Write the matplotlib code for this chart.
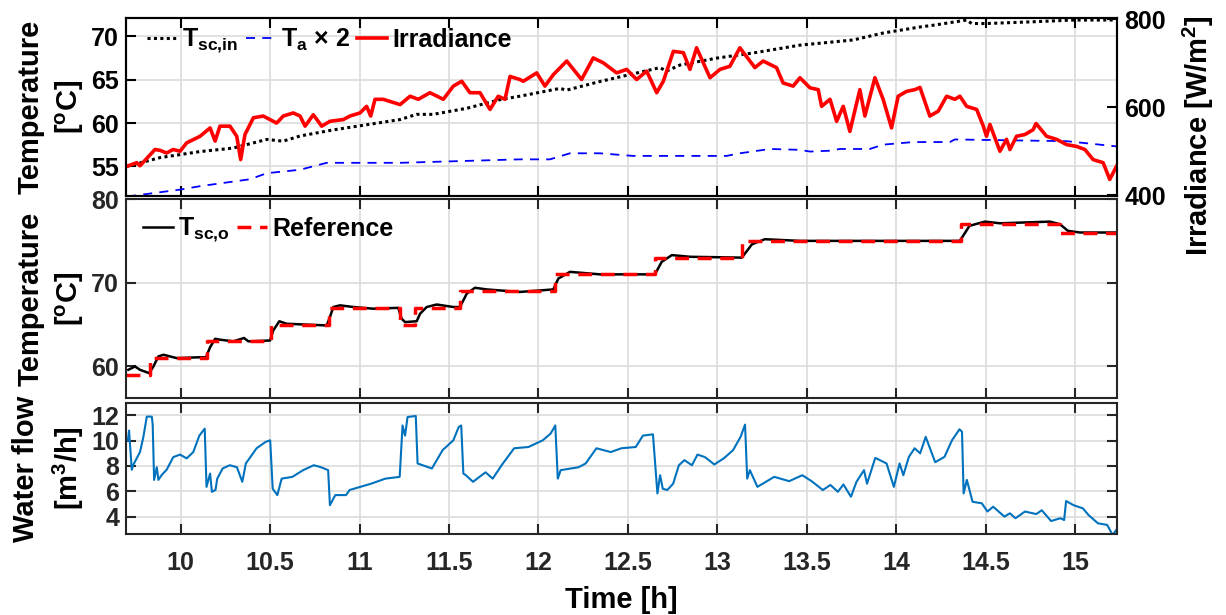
import matplotlib
matplotlib.use("Agg")
import matplotlib.pyplot as plt

# fonts: bold Arial-like text, bold math for subscripts
plt.rcParams["font.family"] = ["Liberation Sans", "DejaVu Sans"]
plt.rcParams["font.weight"] = "bold"
plt.rcParams["axes.labelweight"] = "bold"
plt.rcParams["mathtext.fontset"] = "custom"
plt.rcParams["mathtext.rm"] = "Liberation Sans:bold"
plt.rcParams["mathtext.it"] = "Liberation Sans:bold"
plt.rcParams["mathtext.bf"] = "Liberation Sans:bold"
plt.rcParams["mathtext.default"] = "rm"

# ---- data ----
irr_t = [9.700, 9.754, 9.772, 9.856, 9.884, 9.921, 9.957, 9.996, 10.033, 10.108,
         10.164, 10.192, 10.219, 10.275, 10.313, 10.335, 10.359, 10.406, 10.461, 10.536,
         10.573, 10.629, 10.667, 10.695, 10.741, 10.788, 10.834, 10.909, 10.946, 11.002,
         11.039, 11.062, 11.086, 11.132, 11.226, 11.282, 11.328, 11.393, 11.468, 11.524,
         11.571, 11.617, 11.673, 11.729, 11.775, 11.813, 11.841, 11.896, 11.915, 11.990,
         12.036, 12.083, 12.158, 12.241, 12.306, 12.362, 12.437, 12.493, 12.549, 12.605,
         12.661, 12.698, 12.754, 12.810, 12.847, 12.884, 12.959, 13.015, 13.070, 13.126,
         13.210, 13.256, 13.331, 13.368, 13.424, 13.462, 13.518, 13.564, 13.583, 13.630,
         13.667, 13.704, 13.741, 13.797, 13.825, 13.881, 13.927, 13.974, 14.011, 14.058,
         14.105, 14.133, 14.188, 14.235, 14.282, 14.328, 14.356, 14.394, 14.450, 14.487,
         14.505, 14.524, 14.580, 14.617, 14.636, 14.673, 14.720, 14.766, 14.782, 14.841,
         14.897, 14.953, 15.008, 15.055, 15.101, 15.157, 15.194, 15.232]
irradiance = [466, 474, 467, 504, 502, 496, 504, 500, 519, 534,
              553, 523, 557, 557, 534, 481, 538, 576, 580, 564,
              580, 587, 580, 557, 583, 557, 568, 572, 580, 587,
              602, 580, 618, 618, 606, 625, 618, 633, 618, 648,
              659, 633, 633, 595, 625, 618, 670, 663, 659, 678,
              648, 674, 705, 663, 712, 701, 678, 686, 663, 682,
              633, 659, 727, 724, 686, 735, 667, 686, 693, 735,
              690, 705, 690, 655, 648, 667, 644, 640, 602, 618,
              568, 602, 545, 640, 580, 667, 618, 553, 625, 636,
              640, 645, 580, 591, 625, 618, 625, 602, 595, 557,
              534, 561, 500, 527, 504, 534, 538, 549, 563, 534,
              527, 515, 511, 504, 481, 474, 436, 466]

tsc_in_t = [9.700, 9.884, 10.108, 10.292, 10.481, 10.572, 10.667, 10.851, 11.039, 11.226,
            11.319, 11.410, 11.599, 11.785, 11.896, 12.120, 12.157, 12.344, 12.679, 12.716,
            12.791, 12.996, 13.201, 13.462, 13.760, 13.927, 14.133, 14.207, 14.394, 14.422,
            14.505, 14.764, 14.988, 15.232]
tsc_in = [55.0, 56.0, 56.7, 57.1, 58.1, 57.9, 58.5, 59.2, 59.8, 60.4,
          61.0, 61.0, 61.7, 62.7, 63.1, 64.0, 63.8, 64.8, 66.4, 66.0,
          66.7, 67.5, 68.1, 69.0, 69.6, 70.4, 71.1, 71.3, 71.9, 71.5,
          71.5, 71.7, 71.9, 71.9]

ta_t = [9.700, 9.996, 10.108, 10.387, 10.481, 10.667, 10.816, 11.226, 11.896, 12.064,
        12.176, 12.344, 12.528, 13.052, 13.126, 13.294, 13.462, 13.518, 13.630, 13.685,
        13.853, 13.927, 14.095, 14.300, 14.328, 14.953, 15.232]
ta_x2 = [51.5, 52.3, 52.7, 53.5, 54.2, 54.6, 55.4, 55.4, 55.8, 55.8,
         56.5, 56.5, 56.2, 56.2, 56.5, 57.0, 56.9, 56.7, 56.8, 57.0,
         57.0, 57.5, 57.8, 57.8, 58.1, 57.9, 57.3]

tsco_t = [9.707, 9.744, 9.772, 9.824, 9.847, 9.875, 9.903, 9.977, 10.108, 10.141,
          10.164, 10.192, 10.219, 10.294, 10.354, 10.378, 10.499, 10.517, 10.551, 10.592,
          10.816, 10.834, 10.853, 10.890, 10.965, 11.076, 11.216, 11.235, 11.254, 11.319,
          11.338, 11.375, 11.431, 11.524, 11.561, 11.599, 11.645, 11.711, 11.896, 12.083,
          12.111, 12.176, 12.232, 12.344, 12.651, 12.689, 12.746, 12.847, 13.137, 13.194,
          13.266, 13.462, 14.021, 14.356, 14.410, 14.496, 14.580, 14.859, 14.915, 14.960,
          15.027, 15.232]
tsc_o = [59.6, 60.0, 59.6, 59.2, 60.0, 61.2, 61.4, 61.0, 61.1, 61.1,
         62.3, 63.3, 63.2, 63.0, 63.4, 63.0, 63.1, 64.3, 65.4, 65.1,
         64.9, 65.9, 67.1, 67.3, 67.1, 66.9, 67.0, 65.7, 65.3, 65.4,
         66.3, 67.1, 67.4, 67.1, 67.1, 68.7, 69.4, 69.2, 68.9, 69.2,
         70.5, 71.3, 71.2, 71.0, 71.0, 72.5, 73.3, 73.1, 73.0, 74.6,
         75.2, 75.0, 75.0, 75.0, 76.8, 77.3, 77.1, 77.3, 77.0, 76.2,
         76.0, 76.0]

ref_t = [9.694, 9.828, 10.145, 10.503, 10.830, 11.226, 11.309, 11.561, 12.092, 12.651,
         13.137, 14.361, 14.915, 15.236]
ref_v = [59, 61, 63, 65, 67, 65, 67, 69, 71, 73, 75, 77, 76, 76]

flow_t = [9.704, 9.711, 9.716, 9.726, 9.735, 9.772, 9.791, 9.810, 9.838, 9.843,
          9.851, 9.866, 9.875, 9.894, 9.921, 9.958, 9.996, 10.033, 10.070, 10.104,
          10.134, 10.144, 10.164, 10.174, 10.194, 10.204, 10.234, 10.274, 10.314, 10.344,
          10.364, 10.424, 10.474, 10.500, 10.514, 10.540, 10.564, 10.624, 10.684, 10.744,
          10.784, 10.824, 10.834, 10.864, 10.924, 10.944, 11.064, 11.144, 11.224, 11.240,
          11.254, 11.268, 11.314, 11.324, 11.404, 11.464, 11.524, 11.554, 11.568, 11.580,
          11.594, 11.634, 11.704, 11.744, 11.794, 11.864, 11.944, 12.024, 12.068, 12.094,
          12.108, 12.124, 12.224, 12.264, 12.324, 12.404, 12.464, 12.544, 12.584, 12.640,
          12.665, 12.680, 12.695, 12.720, 12.753, 12.785, 12.816, 12.858, 12.889, 12.931,
          12.983, 13.036, 13.088, 13.130, 13.155, 13.167, 13.182, 13.224, 13.318, 13.402,
          13.475, 13.527, 13.590, 13.632, 13.674, 13.705, 13.747, 13.778, 13.820, 13.837,
          13.883, 13.946, 13.987, 14.019, 14.040, 14.071, 14.103, 14.134, 14.165, 14.218,
          14.270, 14.312, 14.354, 14.368, 14.377, 14.395, 14.427, 14.479, 14.510, 14.542,
          14.605, 14.636, 14.667, 14.720, 14.783, 14.814, 14.866, 14.918, 14.939, 14.950,
          14.992, 15.044, 15.075, 15.128, 15.180, 15.210, 15.230]
water_flow = [10.0, 10.8, 9.8, 7.7, 8.1, 9.1, 10.3, 11.9, 11.9, 11.3,
              6.9, 7.9, 6.9, 7.3, 7.7, 8.7, 8.9, 8.6, 9.1, 10.4,
              10.95, 6.35, 7.4, 5.96, 6.1, 7.0, 7.8, 8.06, 7.9, 6.75,
              8.2, 9.4, 9.9, 10.03, 6.2, 5.7, 7.0, 7.14, 7.67, 8.06,
              7.9, 7.67, 4.9, 5.7, 5.7, 6.1, 6.6, 7.0, 7.14, 11.2,
              10.4, 11.87, 11.95, 8.2, 7.8, 9.25, 10.03, 11.08, 11.2, 7.4,
              7.27, 6.75, 7.5, 7.0, 8.06, 9.4, 9.5, 10.03, 10.56, 11.2,
              7.0, 7.67, 7.9, 8.2, 9.4, 9.1, 9.4, 9.5, 10.4, 10.5,
              5.83, 7.27, 6.2, 6.1, 6.6, 8.06, 8.46, 8.06, 8.9, 8.7,
              8.12, 8.6, 9.25, 10.3, 11.27, 7.0, 7.67, 6.35, 7.14, 6.8,
              7.27, 6.8, 6.1, 6.5, 5.96, 6.54, 5.57, 6.75, 7.67, 6.6,
              8.64, 8.2, 6.35, 8.2, 7.27, 8.72, 9.4, 9.0, 10.3, 8.3,
              8.72, 10.03, 10.9, 10.7, 5.83, 6.9, 5.17, 5.05, 4.4, 4.78,
              4.0, 4.26, 3.87, 4.4, 4.2, 4.5, 3.65, 3.87, 3.73, 5.23,
              4.9, 4.65, 4.13, 3.47, 3.34, 2.55, 2.94]

x_ticks = [10, 10.5, 11, 11.5, 12, 12.5, 13, 13.5, 14, 14.5, 15]
temp_top_ticks = [55, 60, 65, 70]
irr_ticks = [400, 600, 800]
temp_mid_ticks = [60, 70, 80]
flow_ticks = [4, 6, 8, 10, 12]

DARK = "#262626"


def style(ax, col, right=True):
	for s in ax.spines.values():
		s.set_color(col)
		s.set_linewidth(1.5)
	ax.tick_params(direction="in", length=7, width=1.5, labelsize=18,
	               colors=col, top=True, right=right, pad=5)
	ax.tick_params(axis="x", pad=12)
	ax.grid(True, color="#dcdcdc", linewidth=1.2)
	ax.set_axisbelow(True)
	ax.set_xlim(9.694, 15.236)
	ax.set_xticks(x_ticks)


fig = plt.figure(figsize=(12.26, 6.15), dpi=100)
L, W = 0.1028, 0.8085
ax1 = fig.add_axes([L, 0.6818, W, 0.2884])
ax2 = fig.add_axes([L, 0.3524, W, 0.3240])
ax3 = fig.add_axes([L, 0.1312, W, 0.2140])
ax1r = ax1.twinx()

# top panel: inlet / ambient temperature and irradiance
l1, = ax1.plot(tsc_in_t, tsc_in, color="black", lw=2.2, linestyle=(0, (1, 1.1)))
l2, = ax1.plot(ta_t, ta_x2, color="#0000ff", lw=1.3, linestyle=(0, (5, 4)))
l3, = ax1r.plot(irr_t, irradiance, color="#ff0000", lw=2.6)
style(ax1, "black", right=False)
ax1.set_ylim(51.6, 72.1)
ax1.set_yticks(temp_top_ticks)
ax1.tick_params(labelbottom=False)
ax1r.set_ylim(399, 802)
ax1r.set_yticks(irr_ticks)
for s in ax1r.spines.values():
	s.set_color("black")
	s.set_linewidth(1.5)
ax1r.tick_params(direction="in", length=7, width=1.5, labelsize=18, colors="black", pad=5)
ax1.set_ylabel("Temperature\n[$^\\mathrm{o}$C]", fontsize=21, linespacing=1.4)
ax1.yaxis.set_label_coords(-0.040, 0.5)
ax1r.set_ylabel("Irradiance [W/m$^2$]", fontsize=21)
ax1r.yaxis.set_label_coords(1.064, 0.34)
ax1r.legend([l1, l2, l3],
            ["T$_{\\mathrm{sc{,}in}}$", "T$_\\mathrm{a}$ $\\times$ 2", "Irradiance"],
            loc="upper left", bbox_to_anchor=(0.011, 1.01), ncol=3, frameon=False,
            fontsize=18, handlelength=1.2, handletextpad=0.2, columnspacing=0.3,
            borderaxespad=0)

# middle panel: outlet temperature vs reference
m1, = ax2.plot(tsco_t, tsc_o, color="black", lw=1.8)
m2, = ax2.plot(ref_t, ref_v, color="#ff0000", lw=2.5, linestyle=(0, (4, 2.5)),
               drawstyle="steps-post")
style(ax2, DARK)
ax2.set_ylim(56.2, 80)
ax2.set_yticks(temp_mid_ticks)
ax2.tick_params(labelbottom=False)
ax2.set_ylabel("Temperature\n[$^\\mathrm{o}$C]", fontsize=21, linespacing=1.4)
ax2.yaxis.set_label_coords(-0.040, 0.5)
ax2.legend([m1, m2], ["T$_{\\mathrm{sc{,}o}}$", "Reference"], loc="upper left",
           bbox_to_anchor=(0.007, 0.965), frameon=False, ncol=2, fontsize=18,
           handlelength=1.2, handletextpad=0.2, columnspacing=0.3, borderaxespad=0)

# bottom panel: water flow
ax3.plot(flow_t, water_flow, color="#0072bd", lw=1.5)
style(ax3, DARK)
ax3.set_ylim(2.6, 13)
ax3.set_yticks(flow_ticks)
ax3.set_xticklabels([f"{t:g}" for t in x_ticks])
ax3.set_ylabel("Water flow\n[m$^3$/h]", fontsize=21, linespacing=1.4)
ax3.yaxis.set_label_coords(-0.040, 0.5)
ax3.set_xlabel("Time [h]", fontsize=21, labelpad=8)

fig.savefig("out.png", dpi=100)
